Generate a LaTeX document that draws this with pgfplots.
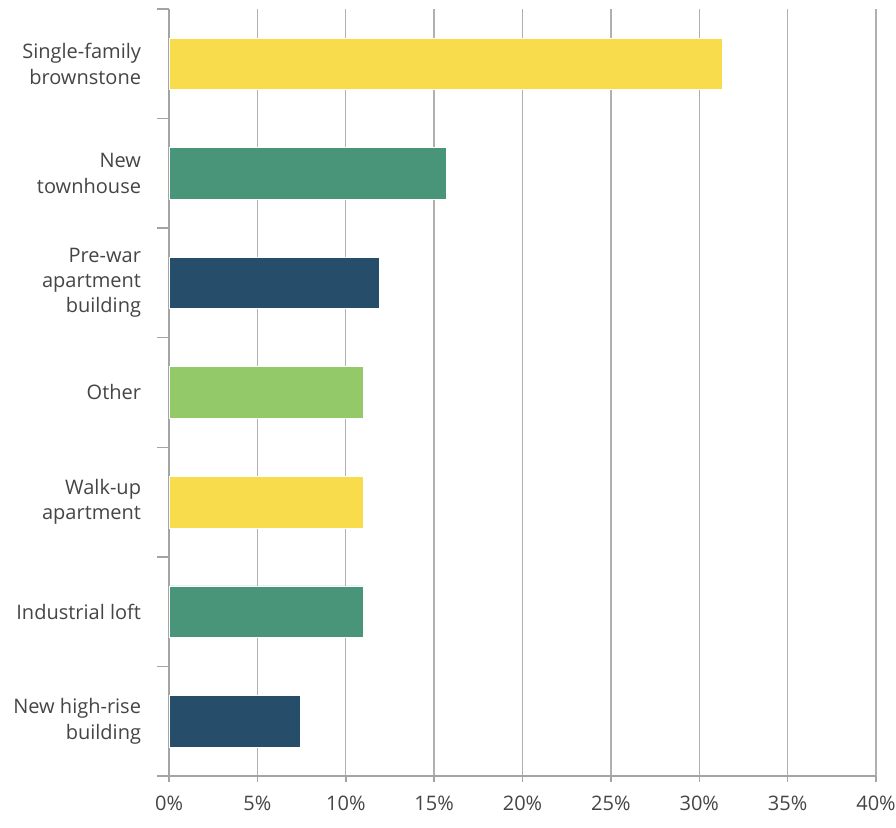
\documentclass[border=0pt]{standalone}
\usepackage{pgfplots}
\pgfplotsset{compat=1.18}
\usepackage{fontspec}
\setmainfont{Open Sans}
\definecolor{barYellow}{HTML}{F9DC4C}
\definecolor{barGreen}{HTML}{49957A}
\definecolor{barNavy}{HTML}{264D69}
\definecolor{barLight}{HTML}{93C969}
\definecolor{gridgray}{HTML}{B0B0B0}
\definecolor{axisgray}{HTML}{A4A4A4}
\definecolor{labelgray}{HTML}{454545}
\begin{document}
\begin{tikzpicture}
\begin{axis}[
    scale only axis,
    width=530pt, height=575pt,
    xbar, bar width=0.47, bar shift=0pt,
    xmin=0, xmax=40, ymin=-0.5, ymax=6.5,
    xtick={0,5,...,40},
    xticklabels={0\%,5\%,10\%,15\%,20\%,25\%,30\%,35\%,40\%},
    ytick={0,...,6},
    yticklabels={{New high-rise\\building},{Industrial loft},{Walk-up\\apartment},{Other},{Pre-war\\apartment\\building},{New\\townhouse},{Single-family\\brownstone}},
    ytick style={draw=none},
    extra y ticks={-0.5,0.5,...,6.5},
    extra y tick labels={},
    extra y tick style={major tick length=9pt, ytick style={draw=axisgray, line width=1.1pt}},
    tick align=outside,
    major tick length=4.5pt,
    xtick style={draw=axisgray, line width=1.1pt},
    axis x line*=bottom, axis y line*=left,
    axis line style={draw=axisgray, line width=1.1pt, -},
    xmajorgrids,
    major x grid style={draw=gridgray, line width=1pt},
    tick label style={font=\fontsize{15}{19}\selectfont, text=labelgray},
    yticklabel style={align=right, xshift=-13pt},
    xticklabel style={inner sep=0pt, yshift=-10pt},
]
\addplot[fill=barYellow, draw=white, line width=0.4pt] coordinates {(31.3,6) (11.0,2)};
\addplot[fill=barGreen, draw=white, line width=0.4pt] coordinates {(15.7,5) (11.0,1)};
\addplot[fill=barNavy, draw=white, line width=0.4pt] coordinates {(11.9,4) (7.4,0)};
\addplot[fill=barLight, draw=white, line width=0.4pt] coordinates {(11.0,3)};
\coordinate (SW) at (rel axis cs:0,0);
\coordinate (NE) at (rel axis cs:1,1);
\end{axis}
% page margins as in the reference
\path ([xshift=-126.75pt, yshift=-39pt]SW) rectangle ([xshift=15pt, yshift=6.75pt]NE);
\end{tikzpicture}
\end{document}
